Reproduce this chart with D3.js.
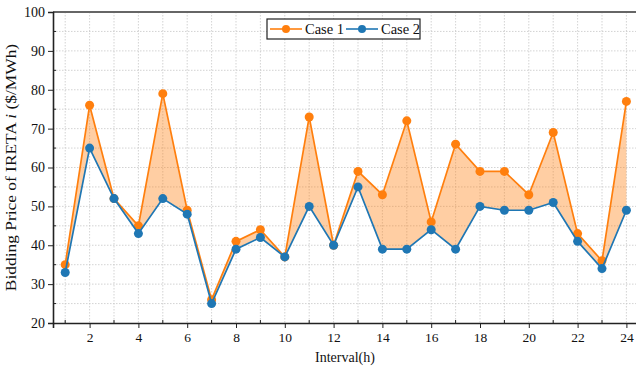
<!DOCTYPE html>
<html>
<head>
<meta charset="utf-8">
<script src="https://cdn.jsdelivr.net/npm/d3@7"></script>
<style>
  body { margin: 0; background: #fff; }
  svg text { font-family: "Liberation Serif", "Times New Roman", serif; fill: #111; }
</style>
</head>
<body>
<div id="chart"></div>
<script>
// hours 1..24
var hours = d3.range(1, 25);
var case1 = [35, 76, 52, 45, 79, 49, 26, 41, 44, 37, 73, 40, 59, 53, 72, 46, 66, 59, 59, 53, 69, 43, 36, 77];
var case2 = [33, 65, 52, 43, 52, 48, 25, 39, 42, 37, 50, 40, 55, 39, 39, 44, 39, 50, 49, 49, 51, 41, 34, 49];
var xTicks = [2, 4, 6, 8, 10, 12, 14, 16, 18, 20, 22, 24];
var yTicks = [20, 30, 40, 50, 60, 70, 80, 90, 100];

var orange = "#ff7f0e";
var blue = "#1f77b4";

var width = 636, height = 367;
var plot_left = 53, plot_top = 12, plot_bottom = 323;

var svg = d3.select("#chart").append("svg")
    .attr("width", width)
    .attr("height", height);

var x = d3.scaleLinear().domain([0.5, 24.5]).range([plot_left, plot_left + 24 * 24.4]);
var y = d3.scaleLinear().domain([20, 100]).range([plot_bottom, plot_top]);

// grid
var grid = svg.append("g").attr("class", "grid")
    .attr("stroke", "#c8c8c8")
    .attr("stroke-width", 0.8)
    .attr("stroke-dasharray", "1.5,1.5");

grid.selectAll(".vg").data(hours).enter().append("line")
    .attr("x1", function (d) { return x(d); })
    .attr("x2", function (d) { return x(d); })
    .attr("y1", plot_top)
    .attr("y2", plot_bottom);

grid.selectAll(".hg").data(d3.range(25, 100, 5)).enter().append("line")
    .attr("x1", plot_left)
    .attr("x2", width)
    .attr("y1", function (d) { return y(d); })
    .attr("y2", function (d) { return y(d); });

// shaded area between the two cases
var area = d3.area()
    .x(function (d, i) { return x(hours[i]); })
    .y0(function (d, i) { return y(case2[i]); })
    .y1(function (d) { return y(d); });

svg.append("path")
    .datum(case1)
    .attr("d", area)
    .attr("fill", orange)
    .attr("fill-opacity", 0.38);

function drawSeries(vals, color) {
    var line = d3.line()
        .x(function (d, i) { return x(hours[i]); })
        .y(function (d) { return y(d); });
    svg.append("path")
        .datum(vals)
        .attr("d", line)
        .attr("fill", "none")
        .attr("stroke", color)
        .attr("stroke-width", 1.7);
    svg.append("g").selectAll("circle").data(vals).enter().append("circle")
        .attr("cx", function (d, i) { return x(hours[i]); })
        .attr("cy", function (d) { return y(d); })
        .attr("r", 4.5)
        .attr("fill", color);
}
drawSeries(case1, orange);
drawSeries(case2, blue);

// top frame
svg.append("line")
    .attr("x1", plot_left).attr("x2", width)
    .attr("y1", plot_top).attr("y2", plot_top)
    .attr("stroke", "#666").attr("stroke-width", 2);

// x axis
var xAxis = svg.append("g")
    .attr("transform", "translate(0," + plot_bottom + ")")
    .call(d3.axisBottom(x).tickValues(xTicks).tickSize(5).tickPadding(4).tickFormat(d3.format("d")))
    .attr("font-family", null)
    .attr("font-size", null);
xAxis.select(".domain").attr("stroke", "#222").attr("stroke-width", 1.6);
xAxis.selectAll(".tick line").attr("stroke", "#222");
xAxis.selectAll("text").attr("font-family", "Liberation Serif").attr("font-size", 13.5);
// minor x ticks (odd hours, inward)
svg.append("g").selectAll("line").data(hours.filter(function (d) { return d % 2 == 1; })).enter().append("line")
    .attr("x1", function (d) { return x(d); })
    .attr("x2", function (d) { return x(d); })
    .attr("y1", plot_bottom)
    .attr("y2", plot_bottom - 3)
    .attr("stroke", "#222");

// y axis
var yAxis = svg.append("g")
    .attr("transform", "translate(" + plot_left + ",0)")
    .call(d3.axisLeft(y).tickValues(yTicks).tickSize(5).tickPadding(3))
    .attr("font-family", null)
    .attr("font-size", null);
yAxis.select(".domain").attr("stroke", "#222").attr("stroke-width", 1.6);
yAxis.selectAll(".tick line").attr("stroke", "#222");
yAxis.selectAll("text").attr("font-family", "Liberation Serif").attr("font-size", 14);
svg.append("g").selectAll("line").data(d3.range(25, 100, 10)).enter().append("line")
    .attr("x1", plot_left)
    .attr("x2", plot_left + 3)
    .attr("y1", function (d) { return y(d); })
    .attr("y2", function (d) { return y(d); })
    .attr("stroke", "#222");

// axis titles
svg.append("text")
    .attr("x", 345)
    .attr("y", 362)
    .attr("text-anchor", "middle")
    .style("font-size", "14px")
    .text("Interval(h)");

var yl = svg.append("text")
    .attr("transform", "translate(16," + (plot_top + plot_bottom) / 2 + ") rotate(-90) scale(1.2,1)")
    .attr("text-anchor", "middle")
    .style("font-size", "14.5px");
yl.append("tspan").text("Bidding Price of IRETA ");
yl.append("tspan").attr("font-style", "italic").text("i");
yl.append("tspan").text(" ($/MWh)");

// legend
var legend = svg.append("g").attr("transform", "translate(267,19)");
legend.append("rect")
    .attr("width", 153).attr("height", 20)
    .attr("fill", "#fff").attr("stroke", "#222").attr("stroke-width", 1.2);
var items = [{ name: "Case 1", color: orange }, { name: "Case 2", color: blue }];
var item = legend.selectAll(".item").data(items).enter().append("g")
    .attr("transform", function (d, i) { return "translate(" + (3 + i * 76) + ",10)"; });
item.append("line")
    .attr("x1", 0).attr("x2", 32)
    .attr("stroke", function (d) { return d.color; }).attr("stroke-width", 1.6);
item.append("circle")
    .attr("cx", 16).attr("r", 4)
    .attr("fill", function (d) { return d.color; });
item.append("text")
    .attr("x", 35).attr("y", 5)
    .style("font-size", "14.5px")
    .text(function (d) { return d.name; });
</script>
</body>
</html>
